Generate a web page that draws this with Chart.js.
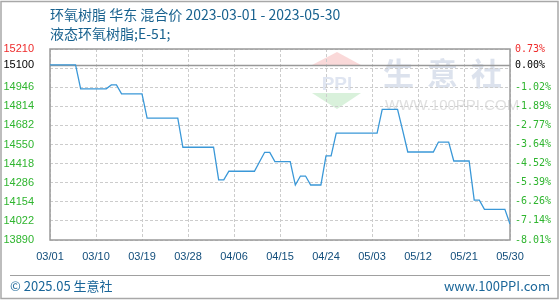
<!DOCTYPE html>
<html>
<head>
<meta charset="utf-8">
<script src="https://cdn.jsdelivr.net/npm/chart.js@4.4.0/dist/chart.umd.min.js"></script>
<style>
  html, body { margin: 0; padding: 0; background: #ffffff; }
  #c { display: block; }
</style>
</head>
<body>
<canvas id="c" width="560" height="300"></canvas>
<script>
// Daily dates, 2023-03-01 .. 2023-05-30
const dates = [
  '03/01','03/02','03/03','03/04','03/05','03/06','03/07','03/08','03/09','03/10',
  '03/11','03/12','03/13','03/14','03/15','03/16','03/17','03/18','03/19','03/20',
  '03/21','03/22','03/23','03/24','03/25','03/26','03/27','03/28','03/29','03/30','03/31',
  '04/01','04/02','04/03','04/04','04/05','04/06','04/07','04/08','04/09','04/10',
  '04/11','04/12','04/13','04/14','04/15','04/16','04/17','04/18','04/19','04/20',
  '04/21','04/22','04/23','04/24','04/25','04/26','04/27','04/28','04/29','04/30',
  '05/01','05/02','05/03','05/04','05/05','05/06','05/07','05/08','05/09','05/10',
  '05/11','05/12','05/13','05/14','05/15','05/16','05/17','05/18','05/19','05/20',
  '05/21','05/22','05/23','05/24','05/25','05/26','05/27','05/28','05/29','05/30'
];

// Epoxy resin E-51, East China blended price (yuan/ton), one value per day
const prices = [
  15100, 15100, 15100, 15100, 15100, 15100,
  14935, 14935, 14935, 14935, 14935, 14935,
  14962, 14962,
  14900, 14900, 14900, 14900, 14900,
  14732, 14732, 14732, 14732, 14732, 14732, 14732,
  14531, 14531, 14531, 14531, 14531, 14531, 14531,
  14305, 14305,
  14365, 14365, 14365, 14365, 14365, 14365,
  14431,
  14496, 14496,
  14432, 14432, 14432, 14432,
  14270,
  14332, 14332,
  14270, 14270, 14270,
  14471, 14471,
  14629, 14629, 14629, 14629, 14629, 14629, 14629, 14629, 14629,
  14793, 14793, 14793, 14793,
  14647,
  14498, 14498, 14498, 14498, 14498, 14498,
  14567, 14567, 14567,
  14436, 14436, 14436, 14436,
  14166, 14166,
  14102, 14102, 14102, 14102, 14102,
  14001
];

// Axis ticks
const xTickLabels = ['03/01','03/10','03/19','03/28','04/06','04/15','04/24','05/03','05/12','05/21','05/30'];
const yTicks = [15210, 15100, 15078, 14946, 14814, 14682, 14550, 14418, 14286, 14154, 14022, 13890];
const yHidden = [15078];
const basePrice = 15100;
const yMin = 13890;
const yMax = 15210;

const titleLine1 = '环氧树脂 华东 混合价 2023-03-01 - 2023-05-30';
const titleLine2 = '液态环氧树脂;E-51;';
const footerLeft = '© 2025.05 生意社';
const footerRight = 'www.100PPI.com';

const RED = '#ee2b2b';
const GREEN = '#2fb52f';
const BLUE_TEXT = '#19628f';

function tickColor(ctx) {
  const v = ctx.tick ? ctx.tick.value : null;
  if (v === yMax) return RED;
  if (v === basePrice) return '#000000';
  return GREEN;
}

function setTicks(scale) {
  scale.ticks = yTicks.map(v => ({ value: v }));
}

// Background logo, page texts and frames
const decor = {
  id: 'decor',
  beforeDraw(chart) {
    const c = chart.ctx;
    c.save();
    // logo mark
    c.fillStyle = 'rgba(244,170,170,0.45)';
    c.beginPath(); c.moveTo(337, 52); c.lineTo(312, 65); c.lineTo(361, 65); c.closePath(); c.fill();
    c.fillStyle = 'rgba(170,225,175,0.45)';
    c.beginPath(); c.moveTo(312, 93); c.lineTo(361, 93); c.lineTo(337, 109); c.closePath(); c.fill();
    c.fillStyle = 'rgba(185,198,225,0.45)';
    c.font = 'bold 19px "Liberation Sans", sans-serif';
    c.textAlign = 'center'; c.textBaseline = 'middle';
    c.fillText('PPI', 337, 85);
    // brand name
    c.fillStyle = 'rgba(205,213,230,0.7)';
    c.font = 'bold 31px "Noto Sans CJK SC", sans-serif';
    c.textAlign = 'left';
    c.fillText('生', 383, 73);
    c.fillText('意', 427, 73);
    c.fillText('社', 471, 73);
    c.fillStyle = 'rgba(215,215,215,0.8)';
    c.font = '15px "Liberation Sans", sans-serif';
    c.fillText('WWW.100PPI.COM', 385, 106);
    c.restore();
  },
  beforeDatasetsDraw(chart) {
    const c = chart.ctx;
    const a = chart.chartArea;
    const y = chart.scales.y;
    c.save();
    // base price line
    const yb = Math.round(y.getPixelForValue(basePrice)) + 0.5;
    c.strokeStyle = '#999999';
    c.lineWidth = 1.5;
    c.beginPath(); c.moveTo(a.left, yb); c.lineTo(a.right, yb); c.stroke();
    // plot frame
    c.strokeStyle = '#9a9a9a';
    c.lineWidth = 1.5;
    c.strokeRect(a.left, a.top, a.right - a.left, a.bottom - a.top);
    c.restore();
  },
  afterDraw(chart) {
    const c = chart.ctx;
    c.save();
    // outer frame
    c.strokeStyle = '#a8a8a8';
    c.lineWidth = 1.5;
    c.strokeRect(1, 1.5, 557, 297);
    // titles
    c.fillStyle = BLUE_TEXT;
    c.textBaseline = 'middle';
    c.textAlign = 'left';
    c.font = '14px "Noto Sans CJK SC", sans-serif';
    c.fillText(titleLine1, 50, 15);
    c.fillText(titleLine2, 50, 34);
    // footer
    c.strokeStyle = '#a0a0a0';
    c.lineWidth = 1;
    c.beginPath(); c.moveTo(10, 275.5); c.lineTo(550, 275.5); c.stroke();
    c.fillStyle = '#1a6699';
    c.font = '13px "Noto Sans CJK SC", sans-serif';
    c.fillText(footerLeft, 10, 286);
    c.textAlign = 'right';
    c.fillText(footerRight, 550, 286);
    c.restore();
  }
};

new Chart(document.getElementById('c'), {
  type: 'line',
  data: {
    labels: dates,
    datasets: [{
      data: prices,
      borderColor: '#3a98d8',
      borderWidth: 1.3,
      pointRadius: 0,
      tension: 0,
      fill: false
    }]
  },
  options: {
    responsive: false,
    animation: false,
    events: [],
    layout: { padding: { top: 49, left: 0, right: 0, bottom: 0 } },
    plugins: {
      legend: { display: false },
      tooltip: { enabled: false },
      title: { display: false }
    },
    scales: {
      x: {
        type: 'category',
        offset: false,
        afterFit(s) { s.height = 60; },
        grid: { color: '#cccccc', lineWidth: 1, drawTicks: false },
        border: { display: false, dash: [3, 2] },
        ticks: {
          autoSkip: false,
          maxRotation: 0,
          padding: 10,
          color: '#114d7b',
          font: { family: '"Liberation Sans", sans-serif', size: 11 },
          callback(v) {
            const lab = this.getLabelForValue(v);
            return xTickLabels.includes(lab) ? lab : null;
          }
        }
      },
      y: {
        position: 'left',
        min: yMin,
        max: yMax,
        afterFit(s) { s.width = 50; },
        afterBuildTicks: setTicks,
        grid: {
          drawTicks: false,
          lineWidth: 1,
          color(ctx) { return ctx.tick && ctx.tick.value === basePrice ? 'rgba(0,0,0,0)' : '#cccccc'; }
        },
        border: { display: false, dash: [3, 2] },
        ticks: {
          padding: 16,
          color: tickColor,
          font: { family: '"Liberation Sans", sans-serif', size: 11 },
          callback(v) { return yHidden.includes(v) ? '' : String(v); }
        }
      },
      y2: {
        position: 'right',
        min: yMin,
        max: yMax,
        afterFit(s) { s.width = 50; },
        afterBuildTicks: setTicks,
        grid: { display: false, drawTicks: false },
        border: { display: false },
        ticks: {
          padding: 5,
          color: tickColor,
          font: { family: '"DejaVu Sans Mono", monospace', size: 10 },
          callback(v) {
            if (yHidden.includes(v)) return '';
            return ((v - basePrice) / basePrice * 100).toFixed(2) + '%';
          }
        }
      }
    }
  },
  plugins: [decor]
});
</script>
</body>
</html>
